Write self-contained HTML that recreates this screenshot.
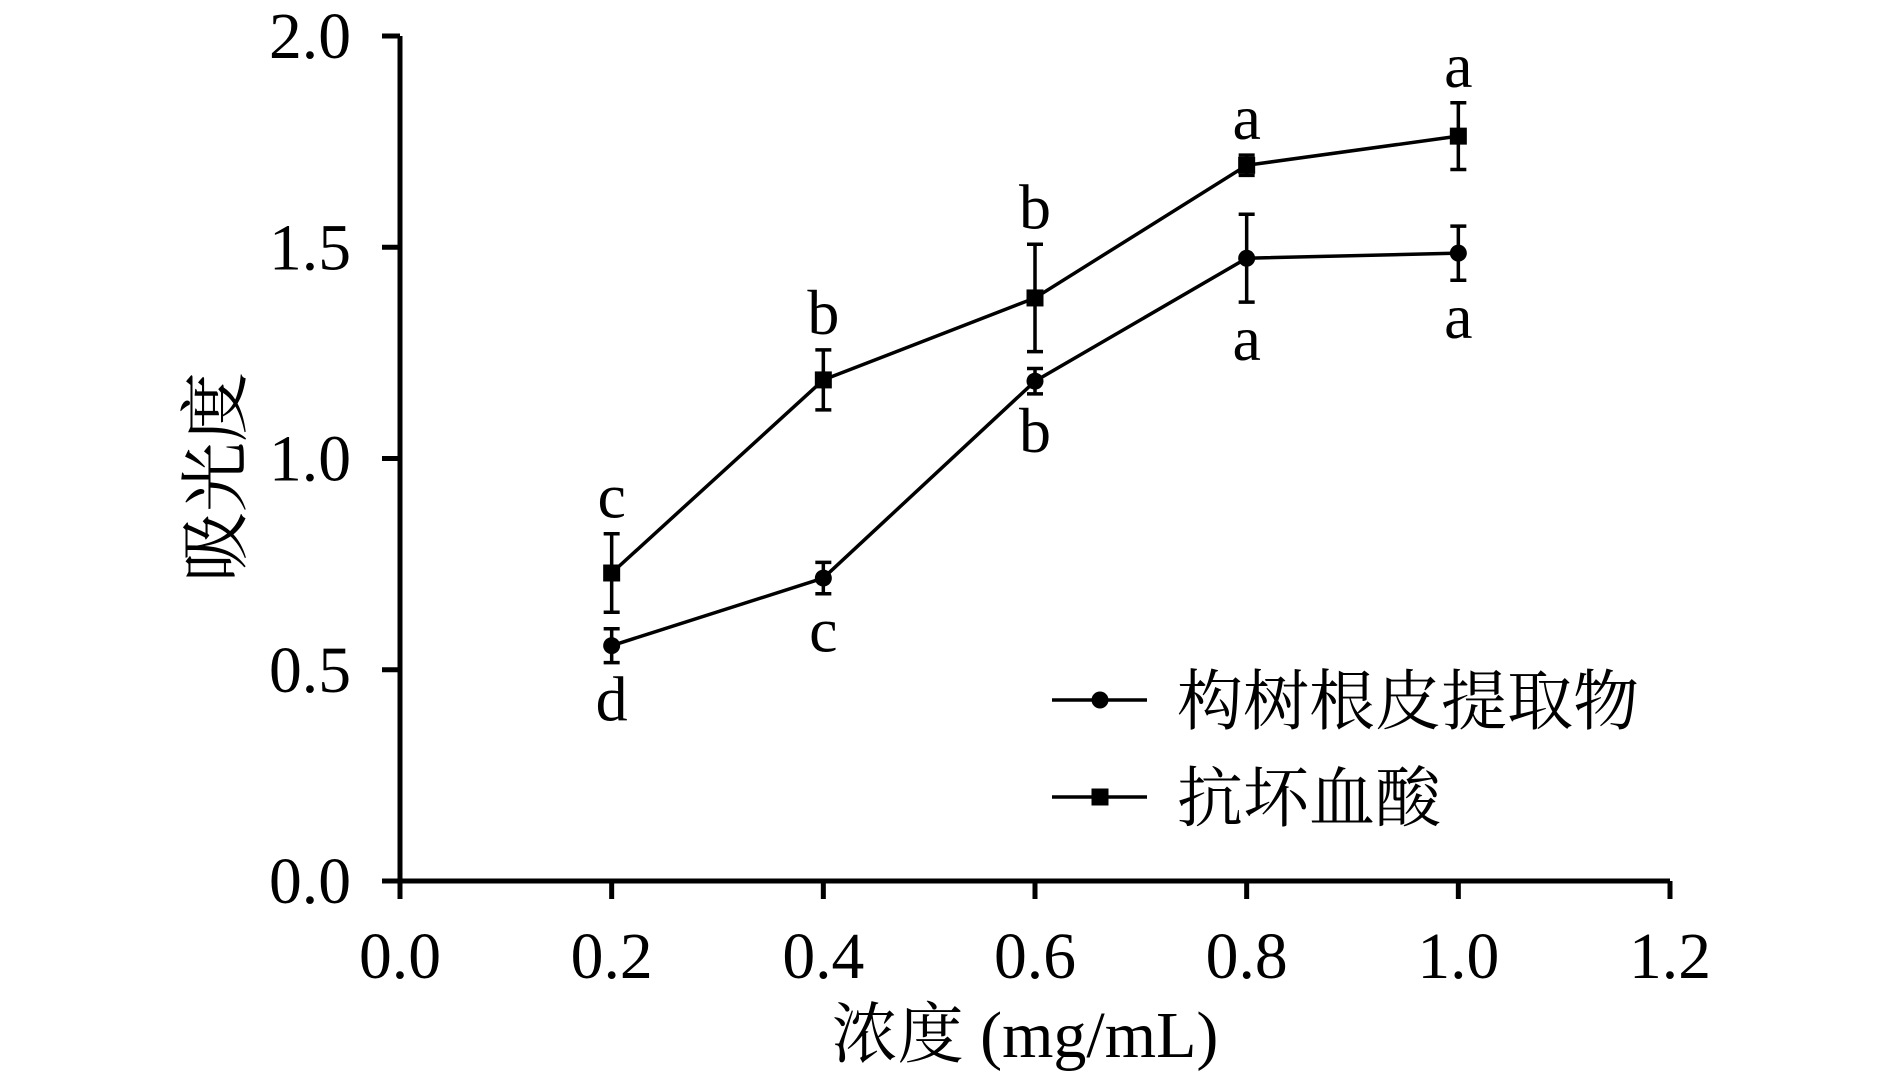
<!DOCTYPE html>
<html><head><meta charset="utf-8"><style>
html,body{margin:0;padding:0;background:#fff;}
svg{display:block;}
text{font-family:"Liberation Serif","Noto Serif CJK SC",serif;fill:#000;}
</style></head><body>
<svg id="chart" width="1890" height="1078" viewBox="0 0 1890 1078"></svg>
<script>
const xTicks=[0.0,0.2,0.4,0.6,0.8,1.0,1.2];
const xTickLabels=["0.0","0.2","0.4","0.6","0.8","1.0","1.2"];
const yTicks=[0.0,0.5,1.0,1.5,2.0];
const yTickLabels=["0.0","0.5","1.0","1.5","2.0"];
const conc=[0.2,0.4,0.6,0.8,1.0];
const extractVals=[0.557,0.717,1.183,1.474,1.486];
const extractErr=[0.04,0.037,0.03,0.104,0.064];
const extractLetters=["d","c","b","a","a"];
const vcVals=[0.729,1.186,1.38,1.694,1.763];
const vcErr=[0.093,0.071,0.127,0.024,0.079];
const vcLetters=["c","b","b","a","a"];

const NS="http://www.w3.org/2000/svg";
const svg=document.getElementById('chart');
const X0=400,X1=1670,Y0=881,Y1=36;
function sx(v){return X0+(v-0)/(1.2-0)*(X1-X0);}
function sy(v){return Y0-(v-0)/(2.0-0)*(Y0-Y1);}
function mk(tag,attrs,parent){const e=document.createElementNS(NS,tag);for(const k in attrs)e.setAttribute(k,attrs[k]);(parent||svg).appendChild(e);return e;}

const ax=mk('path',{d:`M${X0} ${Y1} V${Y0} H${X1}`,stroke:'#000','stroke-width':5,fill:'none'});


xTicks.forEach((t,i)=>{
  const l=mk('line',{x1:sx(t),x2:sx(t),y1:Y0,y2:Y0+18,stroke:'#000','stroke-width':5});
  
  
  const tx=mk('text',{x:sx(t),y:978,'text-anchor':'middle','font-size':66,textLength:82,lengthAdjust:'spacingAndGlyphs'});
  tx.textContent=xTickLabels[i];
  
  
});
yTicks.forEach((t,i)=>{
  const l=mk('line',{x1:X0-18,x2:X0,y1:sy(t),y2:sy(t),stroke:'#000','stroke-width':5});
  
  
  const tx=mk('text',{x:351,y:sy(t)+22,'text-anchor':'end','font-size':66,textLength:82,lengthAdjust:'spacingAndGlyphs'});
  tx.textContent=yTickLabels[i];
  
  
});
const xt=mk('text',{x:1025,y:1057,'text-anchor':'middle','font-size':66});
xt.textContent='浓度 (mg/mL)';


const yt=mk('text',{x:0,y:0,'text-anchor':'middle','font-size':70,transform:'translate(240,477) rotate(-90)'});
yt.textContent='吸光度';



function series(vals,errs,letters,shape,above,name){
  const g=mk('g',{});
  
  
  mk('polyline',{points:vals.map((v,i)=>sx(conc[i])+','+sy(v)).join(' '),fill:'none',stroke:'#000','stroke-width':3.5},g);
  vals.forEach((v,i)=>{
    const x=sx(conc[i]),yt=sy(v+errs[i]),yb=sy(v-errs[i]);
    const e=mk('path',{d:`M${x} ${yt} V${yb} M${x-8} ${yt} H${x+8} M${x-8} ${yb} H${x+8}`,stroke:'#000','stroke-width':3.5,fill:'none'},g);
    
    
    let m;
    if(shape==='circle') m=mk('circle',{cx:x,cy:sy(v),r:8.5,fill:'#000'},g);
    else m=mk('rect',{x:x-8.5,y:sy(v)-8.5,width:17,height:17,fill:'#000'},g);
    
    
    const t=mk('text',{x:x,y:above?yt-16:yb+58,'text-anchor':'middle','font-size':64},g);
    t.textContent=letters[i];
    
    
  });
}
series(extractVals,extractErr,extractLetters,'circle',false,'series-extract');
series(vcVals,vcErr,vcLetters,'square',true,'series-vitamin-c');

const lg=mk('g',{});


const e1=mk('g',{},lg);


mk('line',{x1:1052,x2:1147,y1:700,y2:700,stroke:'#000','stroke-width':3.5},e1);
mk('circle',{cx:1100,cy:700,r:8.5,fill:'#000'},e1);
const t1=mk('text',{x:1177,y:724,'font-size':66},e1);t1.textContent='构树根皮提取物';
const e2=mk('g',{},lg);


mk('line',{x1:1052,x2:1147,y1:797,y2:797,stroke:'#000','stroke-width':3.5},e2);
mk('rect',{x:1091.5,y:788.5,width:17,height:17,fill:'#000'},e2);
const t2=mk('text',{x:1177,y:821,'font-size':66},e2);t2.textContent='抗坏血酸';
</script>
</body></html>
